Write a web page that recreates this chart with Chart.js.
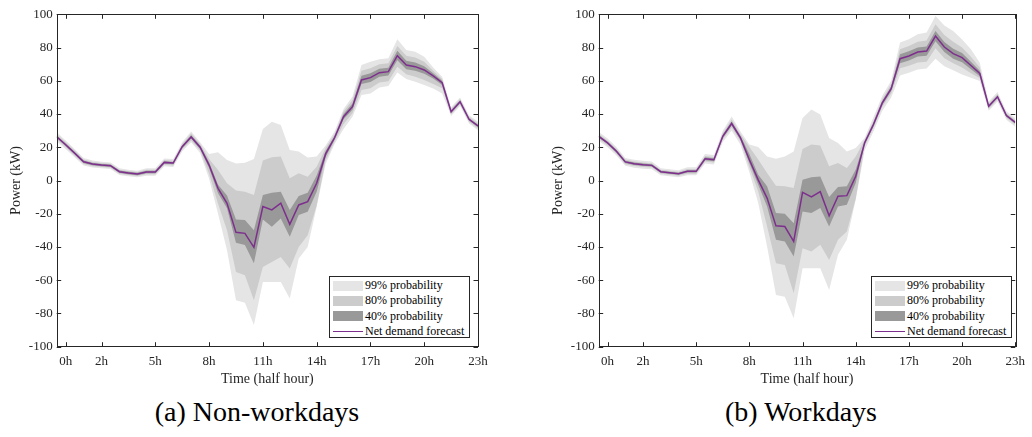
<!DOCTYPE html>
<html>
<head>
<meta charset="utf-8">
<script src="https://cdn.jsdelivr.net/npm/chart.js@4/dist/chart.umd.min.js"></script>
<style>
  body { margin: 0; background: #fff; }
  #wrap { position: relative; width: 1032px; height: 437px; font-family: "Liberation Serif", "Times New Roman", serif; }
  canvas { position: absolute; top: 0; }
  #cvA { left: 0; }
  #cvB { left: 516px; }
  .legend {
    position: absolute; top: 276px; width: 141px; height: 62px;
    border: 1px solid #262626; background: #fff; padding-top: 1px; box-sizing: border-box;
    font-size: 12px; color: #000;
  }
  .legend .row { display: flex; align-items: center; height: 15.3px; }
  .legend .sw { width: 30px; height: 10px; margin: 0 2px 0 3px; }
  .legend .ln { width: 30px; height: 0; border-top: 1.5px solid rgb(126,47,142); margin: 0 2px 0 3px; }
  .caption { position: absolute; top: 396px; width: 400px; text-align: center; font-size: 28px; line-height: 32px; color: #000; }
</style>
</head>
<body>
<div id="wrap">
  <canvas id="cvA" width="516" height="392"></canvas>
  <canvas id="cvB" width="516" height="392"></canvas>

  <div class="legend" style="left:329px">
    <div class="row"><div class="sw" style="background:rgb(229,229,229)"></div>99% probability</div>
    <div class="row"><div class="sw" style="background:rgb(204,204,204)"></div>80% probability</div>
    <div class="row"><div class="sw" style="background:rgb(153,153,153)"></div>40% probability</div>
    <div class="row"><div class="ln"></div>Net demand forecast</div>
  </div>
  <div class="legend" style="left:871px">
    <div class="row"><div class="sw" style="background:rgb(229,229,229)"></div>99% probability</div>
    <div class="row"><div class="sw" style="background:rgb(204,204,204)"></div>80% probability</div>
    <div class="row"><div class="sw" style="background:rgb(153,153,153)"></div>40% probability</div>
    <div class="row"><div class="ln"></div>Net demand forecast</div>
  </div>

  <div class="caption" style="left:57px">(a) Non-workdays</div>
  <div class="caption" style="left:601px">(b) Workdays</div>
</div>

<script>
// half-hour slots 1..48, tick positions and their labels
const tickSlots = [2, 6, 12, 18, 24, 30, 36, 42, 48];
const tickLabels = ['0h', '2h', '5h', '8h', '11h', '14h', '17h', '20h', '23h'];

// (a) non-workdays
const nwForecast = [26.3, 21.5, 16.5, 11.3, 9.9, 9.3, 8.9, 5.3, 4.5, 3.9, 5.1, 5.1, 10.9, 10.5, 20.3, 26.2,
  20.0, 9.3, -4.7, -13.7, -31.2, -31.8, -40.2, -15.7, -17.7, -13.7, -26.4, -14.7, -12.7, -1.7, 16.0, 25.7,
  38.4, 44.4, 60.5, 61.9, 64.9, 65.5, 75.1, 69.5, 68.5, 66.5, 62.9, 58.8, 41.4, 47.4, 36.8, 32.8];
const nw99Up = [29, 24, 19, 13.5, 12, 11.3, 10.9, 7.3, 6.5, 5.9, 7.3, 7.3, 13.3, 12.9, 23, 29.5,
  23, 16, 17, 12.3, 10.3, 10.7, 13, 31, 35.4, 33.4, 18.4, 17.4, 13.8, 14.4, 21, 29.5,
  43, 50.5, 69.5, 71.5, 73, 73.5, 85, 78.5, 77.5, 74.5, 68, 62.5, 44, 50, 39.3, 35.3];
const nw99Low = [23.6, 19, 14, 9.1, 7.8, 7.3, 6.9, 3.3, 2.5, 1.9, 2.9, 2.9, 8.5, 8.1, 17.6, 23,
  16.5, 1, -20, -42, -72, -73.5, -87, -61, -61, -61, -71, -47, -40, -16, 10, 22,
  31, 38.4, 51.4, 52.4, 56, 56.8, 65, 61, 59.4, 57.4, 55.4, 52.4, 38.8, 44.8, 34.3, 30.3];
const nw80Up = [27.8, 23, 18, 12.6, 11.2, 10.5, 10.1, 6.5, 5.7, 5.1, 6.4, 6.4, 12.3, 11.9, 22, 28.3,
  22, 13, 6.3, -1.7, -6, -6.7, -8.7, 12, 14, 14.4, 1.3, 4.3, 2.3, 8.3, 19.5, 28,
  41.5, 48.5, 66, 67.5, 70, 70.5, 81, 75, 74, 71.5, 66, 61, 43, 49, 38.3, 34.3];
const nw80Low = [24.8, 20, 15, 10, 8.6, 8.1, 7.7, 4.1, 3.3, 2.7, 3.8, 3.8, 9.5, 9.1, 18.6, 24.1,
  18, 4, -14, -30, -55, -57, -72, -52, -49, -46, -53, -40, -33, -15, 12, 23.3,
  34, 40.5, 54.5, 55.5, 59, 59.7, 68.5, 64, 62.5, 60.5, 58, 55.5, 39.8, 45.8, 35.3, 31.3];
const nw40Up = [27, 22.2, 17.2, 12, 10.6, 10, 9.6, 6, 5.2, 4.6, 5.8, 5.8, 11.6, 11.2, 21.1, 27.2,
  21, 11, -2.5, -9, -23.4, -23.8, -30, -8.7, -7.3, -6.7, -17.7, -9.3, -7.3, 3, 17.8, 26.7,
  40, 46.3, 63, 64.5, 67.3, 67.8, 78, 72, 71, 68.8, 64.5, 60, 42.2, 48.2, 37.5, 33.5];
const nw40Low = [25.6, 20.8, 15.8, 10.6, 9.2, 8.6, 8.2, 4.6, 3.8, 3.2, 4.4, 4.4, 10.2, 9.8, 19.5, 25.2,
  19, 7.5, -7.7, -16.7, -37.4, -38.8, -49.8, -23.4, -27.8, -22.8, -33.8, -20.8, -18.8, -6.7, 14.2, 24.7,
  36.8, 42.5, 58, 59.3, 62.5, 63.2, 72.3, 67, 66, 64.2, 61.3, 57.5, 40.6, 46.6, 36.1, 32.1];

// (b) workdays
const wdForecast = [26.6, 22.6, 17.6, 11.2, 10.1, 9.5, 9.1, 5.3, 4.7, 4.1, 5.5, 5.5, 13.1, 12.5, 26.6, 34.3,
  25.6, 12.5, 0.4, -10.6, -27.3, -27.7, -36.7, -7.1, -9.9, -6.7, -21.2, -9.5, -9.1, 2.5, 22.6, 33.7,
  46.7, 55.2, 73.3, 74.9, 77.3, 77.9, 86.9, 80.3, 76.3, 73.9, 69.2, 64.4, 44.7, 50.4, 39.1, 35];
const wd99Up = [29.3, 25.2, 20.2, 13.6, 12.5, 11.9, 11.4, 7.4, 6.8, 6.2, 7.9, 7.9, 16, 15.3, 30, 38.5,
  29.5, 21.6, 20.2, 14.5, 13.1, 14.5, 17.5, 37.6, 42.7, 39.7, 25.6, 22.6, 17.5, 19.5, 25.5, 38,
  51, 60, 83, 85, 88, 89, 99, 93.3, 89.9, 84.9, 78.9, 70.8, 47.5, 53.3, 41.7, 37.6];
const wd99Low = [23.9, 20, 15, 8.8, 7.7, 7.1, 6.8, 3.2, 2.6, 2, 3.1, 3.1, 10.2, 9.7, 23.2, 30,
  21.5, 5, -13.6, -39.7, -68.9, -69.9, -82.9, -52.8, -52.8, -52.8, -65.9, -44.7, -35.7, -11.6, 18, 29.5,
  42, 50, 63.2, 64.8, 66.8, 67.4, 73.3, 68.8, 66.4, 63.8, 61.8, 59.8, 41.9, 47.5, 36.5, 32.4];
const wd80Up = [28.2, 24.1, 19.1, 12.6, 11.5, 10.9, 10.4, 6.5, 5.9, 5.3, 6.9, 6.9, 14.8, 14.1, 28.5, 36.7,
  27.8, 20.2, 12.6, 4.5, -3.1, -3.5, -4.5, 19, 21.6, 21, 8.5, 10.5, 7.5, 14.5, 24.3, 36,
  49, 58, 79, 81, 83.5, 84.3, 94, 87.5, 83.5, 80, 74.5, 68, 46.3, 52, 40.5, 36.4];
const wd80Low = [25, 21.1, 16.1, 9.8, 8.7, 8.1, 7.8, 4.1, 3.5, 2.9, 4.1, 4.1, 11.4, 10.9, 24.7, 31.9,
  23.4, 8, -6.6, -27.7, -49.8, -50.8, -67.9, -40.7, -42.7, -38.7, -47.8, -35.7, -30.7, -11, 20.5, 31.4,
  44.4, 52.4, 67.5, 69, 71, 71.5, 79.5, 73.5, 70.5, 68, 64.5, 61.5, 43, 48.8, 37.7, 33.6];
const wd40Up = [27.4, 23.3, 18.3, 11.9, 10.8, 10.2, 9.8, 5.9, 5.3, 4.7, 6.2, 6.2, 14, 13.4, 27.6, 35.5,
  26.7, 16, 3.5, -3.5, -19.6, -20, -25.7, 0.4, 2, 2.4, -9.9, -3.9, -3.5, 6.6, 23.4, 34.8,
  47.9, 56.6, 76, 77.7, 80, 80.7, 90, 83.3, 79.3, 76.7, 71.5, 66, 45.5, 51.2, 39.8, 35.7];
const wd40Low = [25.8, 21.9, 16.9, 10.5, 9.4, 8.8, 8.4, 4.7, 4.1, 3.5, 4.8, 4.8, 12.2, 11.6, 25.6, 33.1,
  24.5, 10.5, -2.5, -15.6, -35.7, -36.7, -45.8, -18.6, -19.6, -16.6, -27.7, -15.6, -14.6, -1.5, 21.8, 32.6,
  45.5, 53.8, 70.5, 72.2, 74.6, 75.1, 83.8, 77.3, 73.3, 71.1, 66.9, 62.8, 43.9, 49.6, 38.4, 34.3];

const yTicks = [-100, -80, -60, -40, -20, 0, 20, 40, 60, 80, 100];

const axisColor = '#262626';
const lineColor = 'rgb(126,47,142)';
const fontFam = '"Liberation Serif", "Times New Roman", serif';

// box around the plot with inward ticks on all four sides
const framePlugin = {
  id: 'frame',
  afterDraw(chart) {
    const { ctx, chartArea: a, scales } = chart;
    const len = 4.5;
    ctx.save();
    ctx.strokeStyle = axisColor;
    ctx.lineWidth = 1;
    ctx.beginPath();
    tickSlots.forEach(v => {
      const px = Math.round(scales.x.getPixelForValue(v)) + 0.5;
      ctx.moveTo(px, a.bottom); ctx.lineTo(px, a.bottom - len);
      ctx.moveTo(px, a.top); ctx.lineTo(px, a.top + len);
    });
    yTicks.forEach(v => {
      const py = Math.round(scales.y.getPixelForValue(v)) + 0.5;
      ctx.moveTo(a.left, py); ctx.lineTo(a.left + len, py);
      ctx.moveTo(a.right, py); ctx.lineTo(a.right - len, py);
    });
    ctx.stroke();
    ctx.strokeRect(Math.round(a.left) + 0.5, Math.round(a.top) + 0.5, Math.round(a.width), Math.round(a.height));
    ctx.restore();
  }
};

const pts = arr => arr.map((v, i) => ({ x: i + 1, y: v }));

function band(up, low, color) {
  return [
    { data: pts(up), borderWidth: 0, pointRadius: 0, backgroundColor: color, fill: '+1' },
    { data: pts(low), borderWidth: 0, pointRadius: 0, backgroundColor: color, fill: false }
  ];
}

function makePanel(id, fc, b99, b80, b40, padLeft, padRight) {
  const ctx = document.getElementById(id).getContext('2d');
  return new Chart(ctx, {
    type: 'line',
    data: {
      datasets: [
        { data: pts(fc), borderColor: lineColor, borderWidth: 1.5, pointRadius: 0, fill: false },
        ...band(b40[0], b40[1], 'rgb(153,153,153)'),
        ...band(b80[0], b80[1], 'rgb(204,204,204)'),
        ...band(b99[0], b99[1], 'rgb(229,229,229)')
      ]
    },
    options: {
      responsive: false,
      animation: false,
      devicePixelRatio: 1,
      layout: { padding: { left: padLeft, right: padRight, top: 14.3, bottom: 0 } },
      plugins: { legend: { display: false }, tooltip: { enabled: false } },
      elements: { line: { tension: 0 } },
      scales: {
        x: {
          type: 'linear', min: 1, max: 48,
          afterBuildTicks: s => { s.ticks = tickSlots.map(v => ({ value: v })); },
          afterFit: s => { s.height = 45.3; },
          grid: { display: false, drawTicks: false, tickLength: 0 },
          border: { display: false },
          ticks: {
            autoSkip: false, maxRotation: 0, padding: 7,
            color: axisColor, font: { family: fontFam, size: 13 },
            callback: v => tickLabels[tickSlots.indexOf(v)]
          },
          title: {
            display: true, text: 'Time (half hour)', color: axisColor,
            font: { family: fontFam, size: 14 }, padding: { top: 0, bottom: 4.6 }
          }
        },
        y: {
          min: -100, max: 100,
          afterBuildTicks: s => { s.ticks = yTicks.map(v => ({ value: v })); },
          afterFit: s => { s.width = 56.7; },
          grid: { display: false, drawTicks: false, tickLength: 0 },
          border: { display: false },
          ticks: { padding: 4, color: axisColor, font: { family: fontFam, size: 13 } },
          title: {
            display: true, text: 'Power (kW)', color: axisColor,
            font: { family: fontFam, size: 14 }, padding: { top: 7.6, bottom: 0 }
          }
        }
      }
    },
    plugins: [framePlugin]
  });
}

makePanel('cvA', nwForecast, [nw99Up, nw99Low], [nw80Up, nw80Low], [nw40Up, nw40Low], 0, 38);
makePanel('cvB', wdForecast, [wd99Up, wd99Low], [wd80Up, wd80Low], [wd40Up, wd40Low], 26, 12);
</script>
</body>
</html>
